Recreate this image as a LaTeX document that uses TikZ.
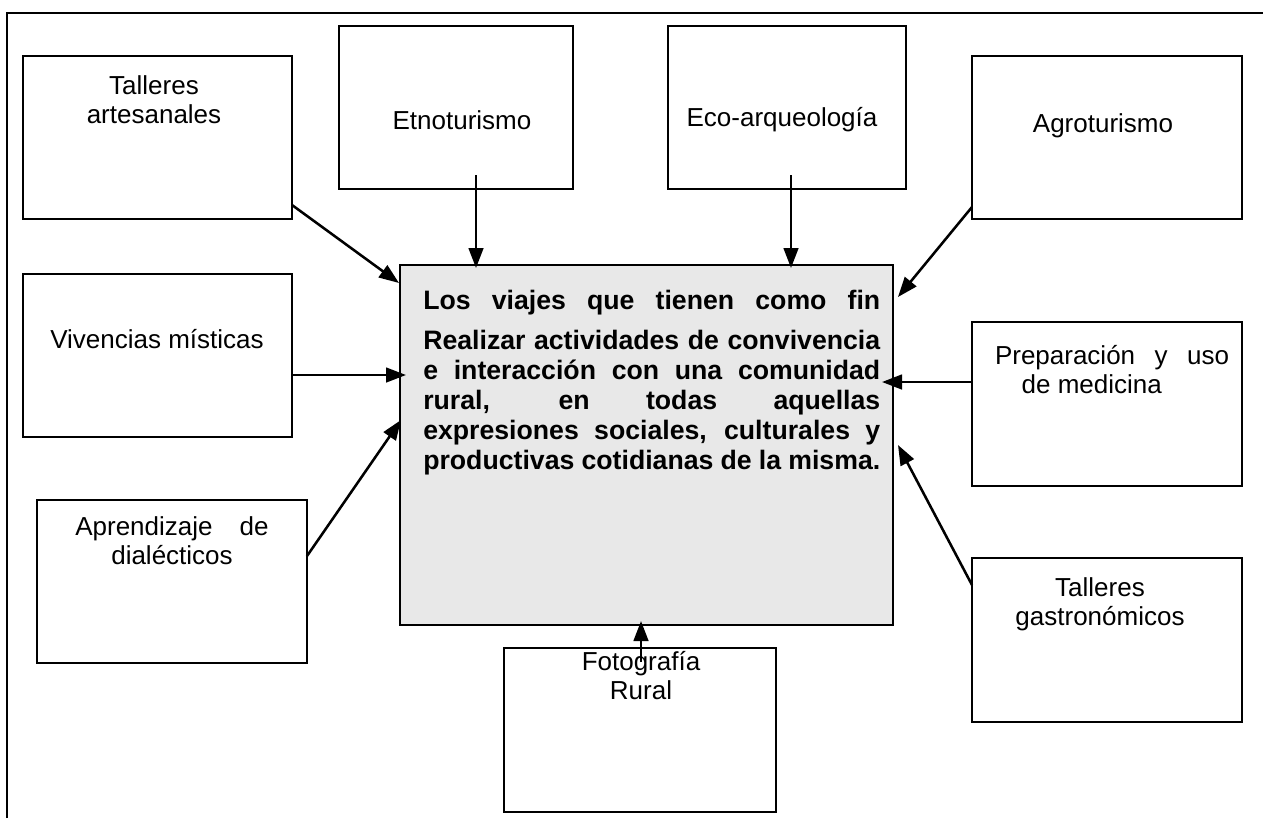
\documentclass[tikz,border=0pt]{standalone}
\usepackage{fontspec}
\setmainfont{Liberation Sans}
\newfontfamily\ctrfont{Liberation Sans}
\usetikzlibrary{arrows.meta,fit}
\definecolor{ctrgray}{HTML}{E8E8E8}
\begin{document}
\begin{tikzpicture}[x=0.75pt,y=-0.75pt,
  box/.style={draw,line width=1.3pt,inner sep=0pt},
  lbl/.style={font=\fontsize{19.5pt}{21.75pt}\selectfont,align=center,inner sep=0pt},
  arr/.style={line width=1.9pt,-{Triangle[length=15pt,width=11pt]}}]
\useasboundingbox (0,0) rectangle (1263,818);
\draw[line width=1.3pt] (7,818) -- (7,13) -- (1263,13);
% boxes
\node[box, fill=ctrgray, fit={(400,265) (893,625)}] (ctr) {};
\node[box, fit={(23,56) (292,219)}] (tart) {};
\node[box, fit={(339,26) (573,189)}] (etno) {};
\node[box, fit={(668,26) (906,189)}] (eco) {};
\node[box, fit={(972,56) (1242,219)}] (agro) {};
\node[box, fit={(23,274) (292,437)}] (viv) {};
\node[box, fit={(972,322) (1242,486)}] (prep) {};
\node[box, fit={(37,500) (307,663)}] (apr) {};
\node[box, fit={(972,558) (1242,722)}] (tgas) {};
\node[box, fit={(504,648) (776,812)}] (foto) {};
% labels
\node[lbl, anchor=base] (tartlbl) at (154,123) {Talleres\\artesanales};
\node[lbl] (etnolbl) at (462,120) {Etnoturismo};
\node[lbl] (ecolbl) at (782,120) {Eco-arqueología};
\node[lbl] (agrolbl) at (1103,126) {Agroturismo};
\node[lbl, anchor=base] (vivlbl) at (157,348) {Vivencias místicas};
\node[lbl, align=left] (preplbl) at (1112,370) {\makebox[175.5pt][s]{Preparación y uso}\\\hspace*{20pt}de medicina};
\node[lbl] (aprlbl) at (172,541) {\makebox[145pt][s]{Aprendizaje de}\\dialécticos};
\node[lbl, anchor=base] (tgaslbl) at (1100,625) {Talleres\\gastronómicos};
\node[lbl] (fotolbl) at (641,676) {Fotografía\\Rural};
\node[anchor=base west, text width=342.75pt, align=justify, inner sep=0pt,
      font=\ctrfont\bfseries\fontsize{20pt}{22.5pt}\selectfont] (ctrtext) at (423,309)
  {\parindent=0pt\parfillskip=0pt Los viajes que tienen como fin\par\vspace{7.5pt}Realizar actividades de convivencia\linebreak e interacción con una comunidad\linebreak rural, en todas aquellas\linebreak expresiones sociales, culturales y\linebreak productivas cotidianas de la misma.\par};
% arrow end points
\coordinate (s1) at (292,205); \coordinate (e1) at (399,283);
\coordinate (s2) at (476,175); \coordinate (e2) at (476,268);
\coordinate (s3) at (791,175); \coordinate (e3) at (791,268);
\coordinate (s4) at (972,207); \coordinate (e4) at (898,297);
\coordinate (s5) at (292,375); \coordinate (e5) at (406,375);
\coordinate (s6) at (972,382); \coordinate (e6) at (882,382);
\coordinate (s7) at (307,556); \coordinate (e7) at (401,420);
\coordinate (s8) at (972,585); \coordinate (e8) at (898,445);
\coordinate (s9) at (641,662); \coordinate (e9) at (641,621);
\foreach \i in {1,...,9} {\draw[arr] (s\i) -- (e\i);}
\end{tikzpicture}
\end{document}
